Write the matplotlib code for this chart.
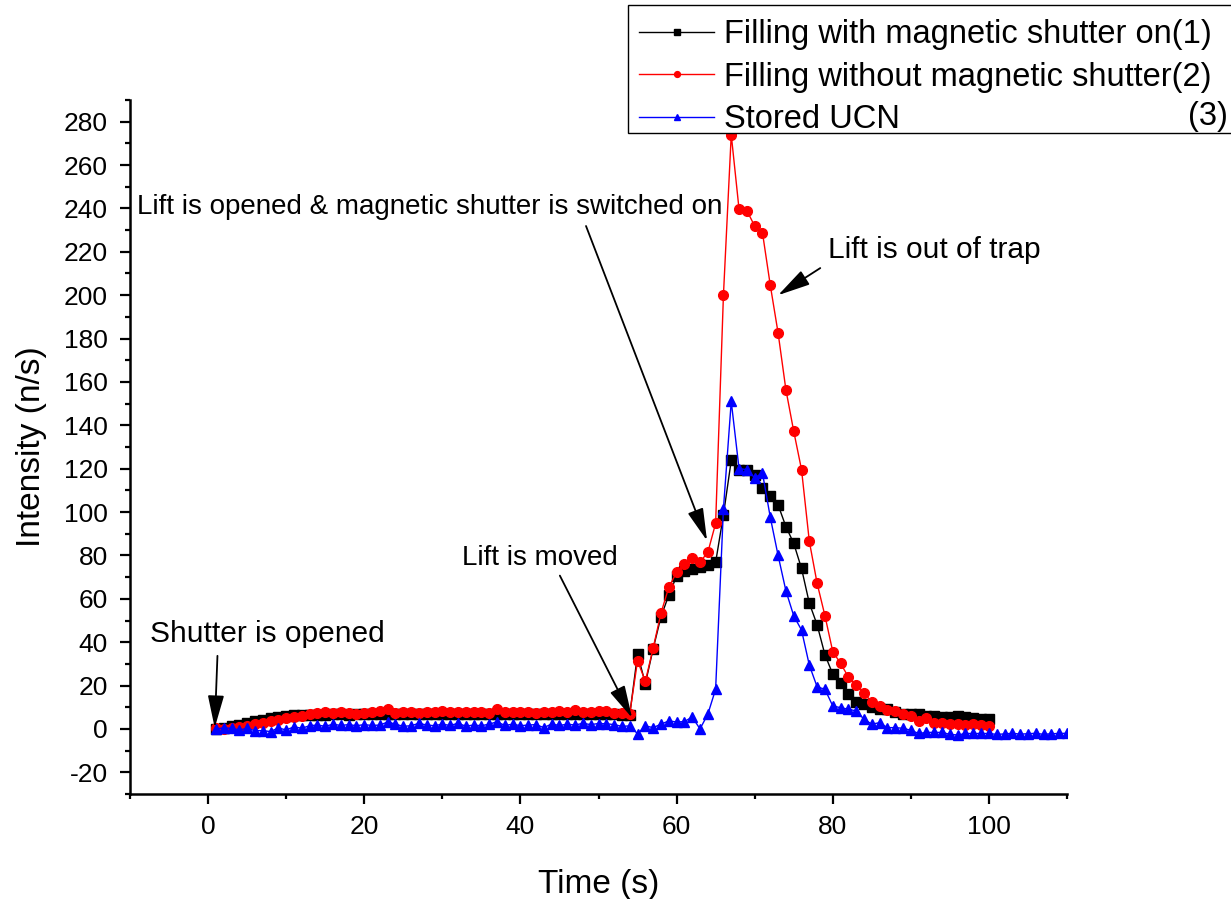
import matplotlib
matplotlib.use("Agg")
import matplotlib.pyplot as plt
from matplotlib.patches import Rectangle
from matplotlib.ticker import MultipleLocator

plt.rcParams['font.family'] = ['Liberation Sans', 'DejaVu Sans']
plt.rcParams['axes.unicode_minus'] = False

# ---------------- data ----------------
time_filling = list(range(1, 101))
time_stored = list(range(1, 111))

filling_with_shutter = [
    0, 0.5, 1.2, 2, 2.8, 3.6, 4.3, 5, 5.5, 6,
    6.2, 6.4, 6.5, 6.6, 6.6, 6.7, 6.7, 6.6, 6.7, 6.8,
    6.8, 6.8, 6.9, 6.9, 6.8, 6.9, 6.9, 6.8, 6.9, 7,
    6.9, 6.8, 6.9, 7, 6.9, 6.9, 6.8, 6.9, 7, 6.9,
    6.9, 6.8, 6.9, 7, 6.9, 6.9, 6.8, 6.9, 6.9, 7,
    6.8, 6.7, 6.6, 6.5, 34.5, 20.9, 37, 51.7, 61.7, 70.4,
    73, 73.8, 74.5, 75.7, 76.8, 98.7, 123.8, 119.6, 119.6, 117.3,
    111.2, 107.3, 103.3, 93.3, 85.6, 74, 58, 48, 34.2, 25.3,
    21.4, 16, 12.2, 11.7, 10.2, 9.1, 9.1, 7.8, 7.1, 7,
    7, 6, 6, 5.6, 5.6, 6, 5.4, 4.9, 4.6, 4.5,
]

filling_without_shutter = [
    0.3, 0.2, 0.5, 0.8, 1.5, 2.3, 2.9, 3.6, 4.3, 5,
    5.5, 6, 6.7, 7.3, 7.6, 7.2, 7.6, 7.3, 7.1, 7.4,
    7.7, 8.2, 9.3, 7.4, 7.6, 7.9, 7.5, 7.8, 7.9, 8.2,
    8, 7.8, 8, 7.7, 7.6, 7.5, 9.4, 7.8, 7.8, 7.6,
    7.8, 7.4, 7.7, 8.0, 8.5, 7.6, 8.6, 8.0, 7.9, 8.3,
    8.1, 7.5, 7.2, 7.0, 31.4, 22, 37.3, 53.4, 65.3, 72.2,
    76, 79, 77, 81.4, 94.8, 200, 274, 239.6, 239, 231.9,
    228.8, 204.6, 182.6, 156.4, 137.3, 119.6, 86.5, 67.1, 52.2, 35.7,
    30.2, 24, 20.2, 16.8, 12.2, 10.6, 8.8, 8.3, 6.8, 6,
    3.7, 4.9, 2.9, 2.9, 2.5, 2.3, 1.8, 2.5, 1.8, 1.4,
]

stored_ucn = [
    0, 0.5, 0.3, -0.5, 0.3, -0.8, -0.8, -1.2, 0.5, -0.5,
    1, 0.3, 1.5, 1.8, 1.2, 2.2, 1.6, 2, 1.5, 2,
    1.6, 1.8, 3.2, 2.2, 1.2, 1.5, 2.6, 1.8, 1.5, 2.2,
    1.6, 2.6, 1.3, 1.8, 1.5, 2.2, 3.3, 1.6, 2.2, 1.5,
    1.8, 2.0, 0.6, 2.3, 1.6, 2.2, 1.8, 2.6, 2.0, 2.5,
    2.4, 2.0, 1.2, 1.4, -2.2, 1.4, 0.6, 2.2, 3.7, 3.2,
    3.4, 5.5, 0, 6.8, 18.3, 101.5, 151, 120, 119.6, 115.8,
    118, 97.6, 80, 63.7, 52.2, 45.6, 29.4, 19.4, 18.3, 10.6,
    9.8, 9.1, 8.3, 4.5, 2.2, 2.9, 0.6, 0.6, 0.3, -0.6,
    -2.1, -1.6, -1.6, -1.6, -2.5, -2.8, -2.1, -2.1, -2.1, -2.1,
    -2.5, -2.3, -2.0, -2.4, -2.2, -2.0, -2.5, -2.2, -2.1, -2.0,
]

labels = ["Filling with magnetic shutter on(1)",
          "Filling without magnetic shutter(2)",
          "Stored UCN"]
label_3_suffix = "(3)"

# ---------------- figure ----------------
W, H = 1231, 899
fig = plt.figure(figsize=(W / 100, H / 100), dpi=100)
ax = fig.add_axes([130 / W, 1 - 794 / H, (1067 - 130) / W, (794 - 100) / H])

ax.plot(time_filling, filling_with_shutter, color='black', marker='s', markersize=6.5,
        lw=1.0, label=labels[0])
ax.plot(time_filling, filling_without_shutter, color='red', marker='o', markersize=7,
        lw=1.0, label=labels[1])
ax.plot(time_stored, stored_ucn, color='blue', marker='^', markersize=7.5,
        lw=1.0, label=labels[2])

ax.set_xlim(-10, 110)
ax.set_ylim(-30, 290)
ax.xaxis.set_major_locator(MultipleLocator(20))
ax.xaxis.set_minor_locator(MultipleLocator(10))
ax.yaxis.set_major_locator(MultipleLocator(20))
ax.yaxis.set_minor_locator(MultipleLocator(10))

for s in ['top', 'right']:
    ax.spines[s].set_visible(False)
for s in ['left', 'bottom']:
    ax.spines[s].set_linewidth(1.8)

ax.tick_params(which='major', direction='out', length=7, width=1.6, labelsize=19)
ax.tick_params(which='minor', direction='out', length=3.5, width=1.6)
ax.tick_params(axis='y', which='major', pad=9)
ax.tick_params(axis='x', which='major', pad=8)

ax.set_xlabel("Time (s)", fontsize=24)
ax.set_ylabel("Intensity (n/s)", fontsize=24)
ax.xaxis.set_label_coords(0.5, -0.108)
ax.yaxis.set_label_coords(-0.089, 0.5)

arrow = dict(arrowstyle='-|>,head_length=1.0,head_width=0.25', mutation_scale=20,
             lw=1.3, color='black', shrinkA=0, shrinkB=0)

ax.text(-7.5, 43.9, "Shutter is opened", fontsize=21.5, ha='left', va='center')
ax.annotate("", xy=(0.85, 0.5), xytext=(1.2, 33.7), arrowprops=arrow)

ax.text(42.5, 79, "Lift is moved", fontsize=20, ha='center', va='center')
ax.annotate("", xy=(54.3, 5.1), xytext=(45.05, 70.7), arrowprops=arrow)

ax.text(-9.05, 240.6, "Lift is opened & magnetic shutter is switched on", fontsize=20,
        ha='left', va='center')
ax.annotate("", xy=(63.9, 86.8), xytext=(48.4, 231.9), arrowprops=arrow)

ax.text(79.4, 220.8, "Lift is out of trap", fontsize=21.5, ha='left', va='center')
ax.annotate("", xy=(73.0, 200), xytext=(78.4, 212.5), arrowprops=arrow)

# legend box (runs off the right edge, as in the original)
fig.patches.append(Rectangle((628 / W, 1 - 133 / H), (1250 - 628) / W, (133 - 5) / H,
                             transform=fig.transFigure, facecolor='white',
                             edgecolor='black', lw=1.0, zorder=3))
handles, _ = ax.get_legend_handles_labels()
leg = fig.legend(handles, labels, loc='upper left', bbox_to_anchor=(628 / W, 1 - 8 / H),
                 bbox_transform=fig.transFigure, fontsize=23.5, frameon=False,
                 markerscale=0.6, handlelength=2.3, handletextpad=0.3, borderpad=0.35,
                 labelspacing=0.35, borderaxespad=0)
leg.set_zorder(4)
fig.text(1228 / W, 1 - 117 / H, label_3_suffix, fontsize=23.5, ha='right',
         va='center', zorder=5)

fig.savefig("out.png", dpi=100)
